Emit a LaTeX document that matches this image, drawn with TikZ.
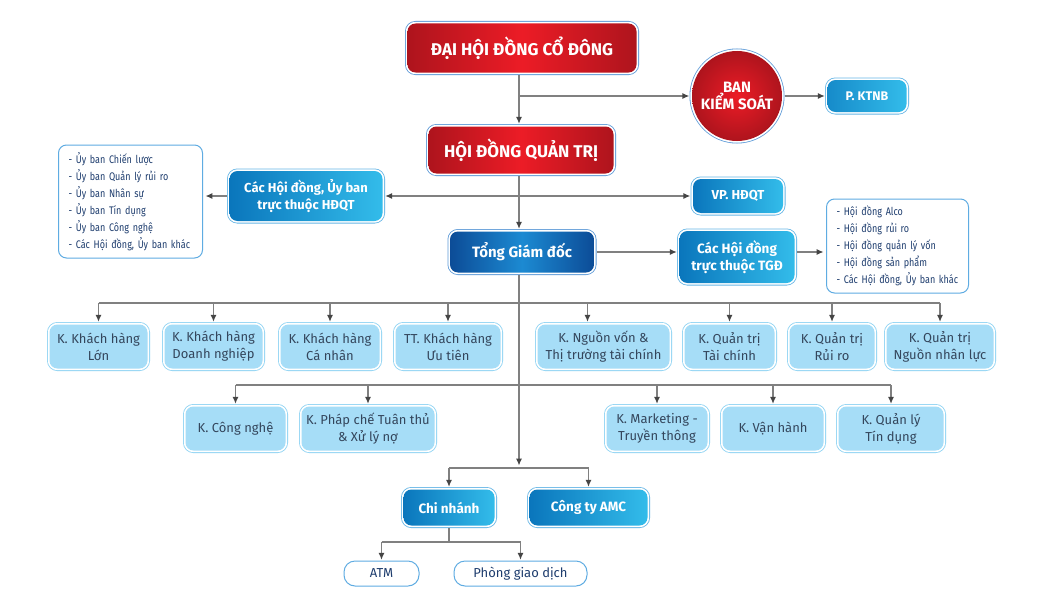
\documentclass[tikz,border=0pt]{standalone}
\usepackage{fontspec}
\setmainfont{Fira Sans}
\newfontfamily\condfont[FakeStretch=0.82]{Fira Sans}
\usetikzlibrary{arrows.meta}
\definecolor{redA}{HTML}{EC1C26}
\definecolor{redB}{HTML}{AE141D}
\definecolor{navyA}{HTML}{0C4C97}
\definecolor{navyB}{HTML}{1C8AD2}
\definecolor{blueA}{HTML}{0A76BC}
\definecolor{blueB}{HTML}{33BCEA}
\definecolor{lightfill}{HTML}{A6DDF7}
\definecolor{lightframe}{HTML}{8ED3F3}
\definecolor{blueframe}{HTML}{66B6E6}
\definecolor{redframe}{HTML}{5E9BD8}
\definecolor{listcol}{HTML}{5FACE2}
\definecolor{linecol}{HTML}{808080}
\definecolor{tipcol}{HTML}{454545}
\definecolor{darktext}{HTML}{34465C}
\definecolor{listtext}{HTML}{1E3D6E}
\tikzset{
  fr/.style={preaction={draw=#1,line width=5pt}, preaction={draw=white,line width=3.4pt}},
  basebox/.style={rectangle, rounded corners=8pt, inner sep=0pt, align=center},
  redbox/.style={basebox, fr=redframe, left color=redB, right color=redB, middle color=redA,
     text=white, font=\bfseries\fontsize{17}{20}\selectfont},
  redcirc/.style={circle, inner sep=0pt, align=center, fr=redframe, inner color=redA, outer color=redB,
     text=white, font=\bfseries\fontsize{15}{17}\selectfont},
  navybox/.style={basebox, fr=redframe, left color=navyA, right color=navyA, middle color=navyB,
     text=white, font=\bfseries\fontsize{15}{18}\selectfont},
  bluebox/.style={basebox, fr=blueframe, left color=blueA, right color=blueB,
     text=white, font=\bfseries\fontsize{13}{17}\selectfont},
  lightbox/.style={basebox, fr=lightframe, fill=lightfill, minimum height=44pt,
     text=darktext, font=\fontsize{13}{17}\selectfont},
  listbox/.style={rectangle, rounded corners=8pt, draw=listcol, line width=1pt, fill=white,
     align=left, inner xsep=10pt, inner ysep=0pt, anchor=west, text=listtext,
     font=\condfont\fontsize{11}{17}\selectfont},
  pillbox/.style={rectangle, rounded corners=11pt, draw=listcol, line width=1pt, fill=white,
     inner sep=0pt, minimum height=25pt, text=listtext, font=\fontsize{13}{16}\selectfont},
  ln/.style={draw=linecol, line width=1.3pt},
  arr/.style={ln, -{Latex[length=7pt,width=6pt,color=tipcol]}, shorten >=2.4pt},
  arrn/.style={arr, shorten <=2.5pt},
}
\begin{document}
\begin{tikzpicture}[x=1pt,y=-1pt]
\fill[white] (0,0) rectangle (1040,610);
\path[use as bounding box] (0,0) rectangle (1040,610);
\coordinate (spine) at (519,0);
% top
\node[redbox, minimum width=229pt, minimum height=49pt] (dh) at (522,48) {ĐẠI HỘI ĐỒNG CỔ ĐÔNG};
\node[redbox, minimum width=185pt, minimum height=47pt] (hd) at (521,150) {HỘI ĐỒNG QUẢN TRỊ};
\node[redcirc, minimum size=90pt] (bks) at (737,96) {BAN\\KIỂM SOÁT};
\node[bluebox, left color=blueA!70!blueB, minimum width=79pt, minimum height=32pt] (ktnb) at (867,96) {\fontsize{12.5}{15}\selectfont P. KTNB};
\node[bluebox, minimum width=153pt, minimum height=50pt] (cachd) at (306,196) {Các Hội đồng, Ủy ban\\trực thuộc HĐQT};
\node[listbox, minimum width=144pt, minimum height=113pt, text width=124pt] (l1) at (58,201.5)
  {- Ủy ban Chiến lược\\- Ủy ban Quản lý rủi ro\\- Ủy ban Nhân sự\\- Ủy ban Tín dụng\\- Ủy ban Công nghệ\\- Các Hội đồng, Ủy ban khác};
\node[bluebox, minimum width=90pt, minimum height=34pt] (vp) at (738,196) {VP. HĐQT};
\node[navybox, minimum width=144pt, minimum height=41pt] (tgd) at (522,252) {Tổng Giám đốc};
\node[bluebox, minimum width=115pt, minimum height=52pt, font=\fontsize{13.5}{17}\selectfont\bfseries] (ctgd) at (737,257) {Các Hội đồng\\trực thuộc TGĐ};
\node[listbox, minimum width=142pt, minimum height=94pt, text width=122pt] (l2) at (826,246)
  {- Hội đồng Alco\\- Hội đồng rủi ro\\- Hội đồng quản lý vốn\\- Hội đồng sản phẩm\\- Các Hội đồng, Ủy ban khác};
% row 1
\node[lightbox, minimum width=98pt] (k1) at (98.5,346.5) {K. Khách hàng\\Lớn};
\node[lightbox, minimum width=98pt] (k2) at (213.5,346.5) {K. Khách hàng\\Doanh nghiệp};
\node[lightbox, minimum width=99pt] (k3) at (330,346.5) {K. Khách hàng\\Cá nhân};
\node[lightbox, minimum width=105pt] (k4) at (448,346.5) {TT. Khách hàng\\Ưu tiên};
\node[lightbox, minimum width=132pt] (k5) at (603.5,346.5) {K. Nguồn vốn \&\\Thị trường tài chính};
\node[lightbox, minimum width=90pt] (k6) at (729.5,346.5) {K. Quản trị\\Tài chính};
\node[lightbox, minimum width=85pt] (k7) at (832,346.5) {K. Quản trị\\Rủi ro};
\node[lightbox, minimum width=107pt] (k8) at (940,346.5) {K. Quản trị\\Nguồn nhân lực};
% row 2
\node[lightbox, minimum width=100pt] (k9) at (235.5,428.5) {K. Công nghệ};
\node[lightbox, minimum width=133pt] (k10) at (368,428.5) {K. Pháp chế Tuân thủ\\\& Xử lý nợ};
\node[lightbox, minimum width=101pt] (k11) at (657,428.5) {K. Marketing -\\Truyền thông};
\node[lightbox, minimum width=101pt] (k12) at (773,428.5) {K. Vận hành};
\node[lightbox, minimum width=105pt] (k13) at (891,428.5) {K. Quản lý\\Tín dụng};
% bottom
\node[bluebox, minimum width=91pt, minimum height=36pt, font=\bfseries\fontsize{13.5}{16}\selectfont] (cn) at (449,507.5) {Chi nhánh};
\node[bluebox, minimum width=118pt, minimum height=36pt, font=\bfseries\fontsize{13.5}{16}\selectfont] (amc) at (588.5,507.5) {Công ty AMC};
\node[pillbox, minimum width=75pt] (atm) at (381.5,573.5) {ATM};
\node[pillbox, minimum width=133pt] (pgd) at (520.5,573.5) {Phòng giao dịch};
% junctions
\coordinate (r1) at (519,303);
\coordinate (r2) at (519,385);
\coordinate (r3) at (519,468);
\coordinate (r4) at (449,542);
\coordinate (k5a) at ([xshift=-16pt]k5.north);
% connectors
\draw[arrn] (dh.south -| spine) -- (hd.north -| spine);
\draw[arr] (spine |- bks.west) -- (bks.west);
\draw[arrn] (bks.east) -- (bks.east -| ktnb.west);
\draw[arrn] (hd.south -| spine) -- (tgd.north -| spine);
\draw[arr] (spine |- cachd.east) -- (cachd.east);
\draw[arr] (spine |- vp.west) -- (vp.west);
\draw[arrn] (cachd.west) -- (cachd.west -| l1.east);
\draw[arrn] (tgd.east) -- (tgd.east -| ctgd.west);
\draw[arrn] (ctgd.east |- tgd.east) -- (l2.west |- tgd.east);
\draw[arr, shorten <=2.5pt] (tgd.south -| spine) -- (r3);
\draw[ln] (k1.north |- r1) -- (k8.north |- r1);
\foreach \k in {k1,k2,k3,k4,k6,k7,k8} \draw[arr] (\k.north |- r1) -- (\k.north);
\draw[arr] (k5a |- r1) -- (k5a);
\draw[ln] (k9.north |- r2) -- (k13.north |- r2);
\foreach \k in {k9,k10,k11,k12,k13} \draw[arr] (\k.north |- r2) -- (\k.north);
\draw[ln] (cn.north |- r3) -- (amc.north |- r3);
\draw[arr] (cn.north |- r3) -- (cn.north);
\draw[arr] (amc.north |- r3) -- (amc.north);
\draw[ln, shorten <=2.5pt] (cn.south) -- (r4);
\draw[ln] (atm.north |- r4) -- (pgd.north |- r4);
\draw[arr, shorten >=0.6pt] (atm.north |- r4) -- (atm.north);
\draw[arr, shorten >=0.6pt] (pgd.north |- r4) -- (pgd.north);
\end{tikzpicture}
\end{document}
